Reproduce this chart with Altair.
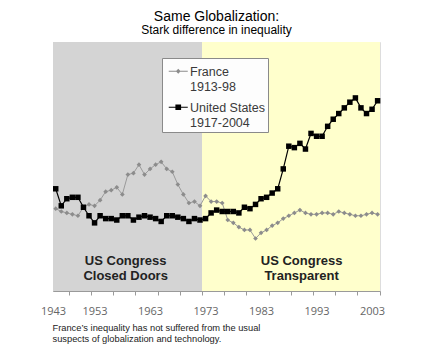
import altair as alt
import pandas as pd

# ---------------- data ----------------
years = list(range(1946, 2005))
france_values = [8.7, 8.5, 8.4, 8.3, 8.2, 8.8, 9.0, 8.9, 9.3, 9.9,
                 10.0, 10.2, 9.7, 11.1, 11.2, 11.8, 11.1, 11.5, 11.8, 12.0,
                 11.5, 11.3, 10.4, 9.7, 9.1, 9.2, 8.9, 9.6, 9.2, 9.2,
                 9.1, 7.9, 7.7, 7.4, 7.2, 7.2, 6.6, 7.0, 7.2, 7.5,
                 7.7, 8.0, 8.2, 8.4, 8.6, 8.4, 8.3, 8.3, 8.4, 8.4,
                 8.3, 8.5, 8.4, 8.3, 8.2, 8.2, 8.3, 8.4, 8.3]
us_values = [10.1, 8.9, 9.4, 9.5, 9.5, 8.8, 8.2, 7.7, 8.2, 8.0,
             8.0, 7.9, 8.2, 8.2, 7.9, 8.1, 8.2, 8.1, 8.0, 7.8,
             8.2, 8.2, 8.1, 8.0, 7.8, 8.0, 7.9, 8.0, 8.4, 8.6,
             8.5, 8.5, 8.5, 8.4, 8.8, 8.7, 9.0, 9.4, 9.5, 9.8,
             10.1, 11.5, 13.1, 13.0, 13.3, 12.9, 14.0, 13.8, 13.8, 14.5,
             15.0, 15.4, 15.8, 16.2, 16.5, 15.8, 15.4, 15.7, 16.3]
series_names = ["France", "United States"]
series_periods = ["1913-98", "1917-2004"]

era_names = ["closed", "transparent"]
era_start = [1945.51, 1972.36]
era_end = [1972.36, 2004.43]
era_label_1 = ["US Congress", "US Congress"]
era_label_2 = ["Closed Doors", "Transparent"]
era_label_year = [1958.6, 1990.3]
era_label_value = [5.03, 3.95]

label_years = [1953, 1963, 1973, 1983, 1993, 2003]
first_label = "1943"
tick_years = [1948.36 + 4 * k for k in range(15)]

title_text = "Same Globalization:"
subtitle_text = "Stark difference in inequality"
footnote = ["France\u2019s inequality has not suffered from the usual",
            "suspects of globalization and technology."]

# ---------------- tables ----------------
df = pd.DataFrame({
    "year": years * 2,
    "value": france_values + us_values,
    "series": [series_names[0]] * len(years) + [series_names[1]] * len(years),
})
eras = pd.DataFrame({"era": era_names, "start": era_start, "end": era_end})
notes = pd.DataFrame({
    "year": era_label_year * 2,
    "value": [era_label_value[0]] * 2 + [era_label_value[1]] * 2,
    "text": era_label_1 + era_label_2,
})

FONT = "Liberation Sans"
SOFT = "Open Sans"
x_dom = [era_start[0], era_end[-1]]
xs = alt.Scale(domain=x_dom, nice=False, zero=False)
ys = alt.Scale(domain=[2.9, 20.44], nice=False, zero=False)

axis_values = [x_dom[0]] + label_years + tick_years
x_axis = alt.Axis(
    values=axis_values, tickCount=100,
    format="d",
    labelExpr=f"datum.value % 1 == 0 ? datum.label : (datum.value % 1 > 0.5 ? '{first_label}' : '')",
    tickOpacity={"condition": {"test": "datum.value % 1 > 0.3 && datum.value % 1 < 0.4", "value": 1}, "value": 0},
    labelOverlap=False, labelFlush=False, labelBound=False,
    grid=False, domainColor="#9a9a9a", tickColor="#9a9a9a", tickSize=4,
    labelPadding=10, labelColor="#666666", labelFont=SOFT, labelFontSize=11,
    title=footnote, titleFont=FONT, titleFontSize=9.3, titleFontWeight="normal",
    titleColor="#222222", titleAlign="left", titleBaseline="top", titleAnchor="start",
    titleX=-1, titleY=32, titleLineHeight=11,
)
y_axis = alt.Axis(labels=False, ticks=False, grid=False, title=None,
                  domainColor="#a0a0a0")

X = alt.X("year:Q", scale=xs, axis=x_axis)
Y = alt.Y("value:Q", scale=ys, axis=y_axis)

bands = alt.Chart(eras).mark_rect().encode(
    x=alt.X("start:Q", scale=xs, axis=x_axis),
    x2="end:Q",
    y=alt.value(0),
    y2=alt.value("height"),
    fill=alt.condition("datum.era == 'closed'", alt.value("#d4d4d4"), alt.value("#ffffcc")),
)

layers = [bands]
styles = {
    "France": dict(line="#9a9a9a", pt="#8c8c8c", shape="diamond", size=22, sw=1),
    "United States": dict(line="#000000", pt="#000000", shape="square", size=30, sw=1.2),
}
for name in series_names:
    s = styles[name]
    base = alt.Chart(df).transform_filter(alt.datum.series == name)
    layers.append(base.mark_line(color=s["line"], strokeWidth=s["sw"]).encode(x=X, y=Y))
    layers.append(base.mark_point(filled=True, color=s["pt"], shape=s["shape"],
                                  size=s["size"], opacity=1).encode(x=X, y=Y))

# legend symbols: a short line with the marker, drawn as one filled path
SYM_SIZE = 16
u = (SYM_SIZE ** 0.5) / 2          # pixels per path unit
def p(v):
    return round(v / u, 4)
sh = 5.0                           # px shift down, beside the first label line
L = 9.5                            # half length of the line, px
legend_paths = [
    f"M{p(-L)},{p(sh-0.5)}H{p(L)}V{p(sh+0.5)}H{p(-L)}Z "
    f"M0,{p(sh-2.4)}L{p(2.4)},{p(sh)}L0,{p(sh+2.4)}L{p(-2.4)},{p(sh)}Z",
    f"M{p(-L)},{p(sh-0.6)}H{p(L)}V{p(sh+0.6)}H{p(-L)}Z "
    f"M{p(-2.85)},{p(sh-2.85)}H{p(2.85)}V{p(sh+2.85)}H{p(-2.85)}Z",
]
periods_expr = " : ".join(
    [f"datum.label == '{n}' ? ['{n}', '{q}']" for n, q in zip(series_names, series_periods)]
) + " : datum.label"
leg = alt.Legend(
    title=None, orient="none", legendX=109, legendY=16,
    labelExpr=periods_expr, labelBaseline="top", labelFont=FONT, labelFontSize=12.5,
    labelColor="#3a3a3a", labelOffset=5.5, symbolOffset=8, symbolSize=SYM_SIZE,
    symbolStrokeWidth=0, padding=2, rowPadding=2, strokeColor="#8a8a8a",
    fillColor="#fdfdfd", labelLimit=200,
)
legend_layer = alt.Chart(df).transform_filter("false").mark_point(filled=True, opacity=1).encode(
    x=X, y=Y,
    color=alt.Color("series:N", scale=alt.Scale(domain=series_names, range=["#8c8c8c", "#000000"]), legend=leg),
    shape=alt.Shape("series:N", scale=alt.Scale(domain=series_names, range=legend_paths), legend=leg),
)
layers.append(legend_layer)

texts = alt.Chart(notes).mark_text(font=FONT, fontSize=13, fontWeight="bold",
                                   color="#222222", baseline="middle").encode(
    x=alt.X("year:Q", scale=xs), y=alt.Y("value:Q", scale=ys), text="text:N")
layers.append(texts)

chart = alt.layer(*layers).properties(
    width=327, height=249,
    padding={"left": 45, "top": 34, "right": 44, "bottom": 63},
    autosize=alt.AutoSizeParams(type="none"),
    title=alt.Title(title_text, subtitle=subtitle_text, anchor="middle", font=FONT,
                    fontSize=14, fontWeight="normal", color="#000000",
                    subtitleFont=FONT, subtitleFontSize=12, subtitleColor="#000000",
                    offset=6, subtitlePadding=1),
).configure_view(stroke=None).configure(background="white")

chart.save("out.html", embed_options={"renderer": "svg", "actions": False})
